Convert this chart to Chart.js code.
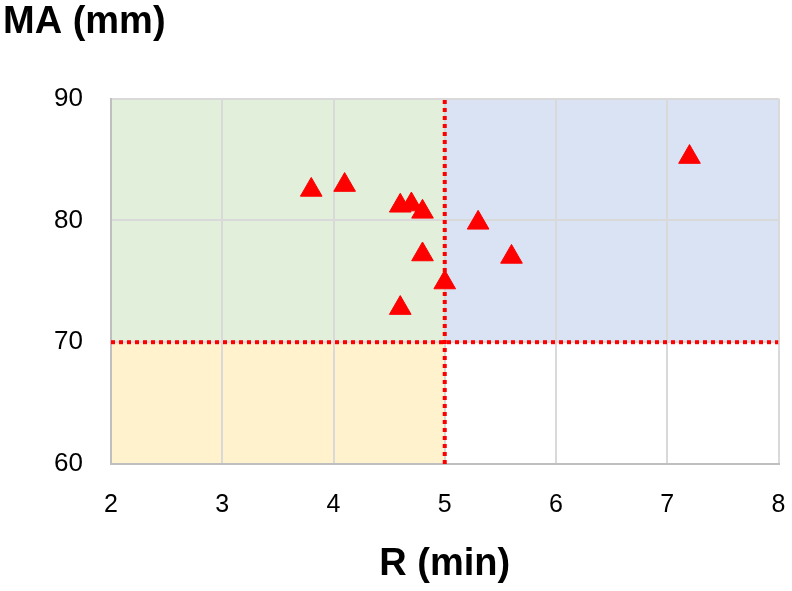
<!DOCTYPE html>
<html>
<head>
<meta charset="utf-8">
<script src="https://cdn.jsdelivr.net/npm/chart.js@4.4.1/dist/chart.umd.min.js"></script>
<style>
  html, body { margin: 0; padding: 0; background: #fff; }
  #wrap { width: 792px; height: 591px; }
</style>
</head>
<body>
<div id="wrap"><canvas id="chart"></canvas></div>
<script>
// R (min) vs MA (mm), one triangle per sample
const rValues  = [3.8, 4.1, 4.6, 4.7, 4.8, 5.3, 4.8, 5.6, 5.0, 4.6, 7.2];
const maValues = [82.5, 82.9, 81.2, 81.3, 80.7, 79.8, 77.2, 77.0, 74.9, 72.8, 85.2];

const xRange = [2, 8];
const yRange = [60, 90];
const rThreshold = 5;
const maThreshold = 70;

// shaded zones: [xFrom, xTo, yFrom, yTo]
const zoneGreen  = [2, 5, 70, 90];
const zoneBlue   = [5, 8, 70, 90];
const zoneYellow = [2, 5, 60, 70];

const points = rValues.map((r, i) => ({ x: r, y: maValues[i] }));

const FONT = 'Liberation Sans, Arial, sans-serif';

// fills the zones behind the grid
const zonesPlugin = {
    id: 'zones',
    beforeDraw(chart) {
        const ctx = chart.ctx;
        const xs = chart.scales.x, ys = chart.scales.y;
        const fill = (z, color) => {
            const x1 = xs.getPixelForValue(z[0]), x2 = xs.getPixelForValue(z[1]);
            const y1 = ys.getPixelForValue(z[3]), y2 = ys.getPixelForValue(z[2]);
            ctx.save();
            ctx.fillStyle = color;
            ctx.fillRect(x1, y1, x2 - x1, y2 - y1);
            ctx.restore();
        };
        fill(zoneGreen, '#e2efda');
        fill(zoneBlue, '#dae3f3');
        fill(zoneYellow, '#fff2cc');
    }
};

const dotted = {
    type: 'line',
    borderColor: '#ff0000',
    borderWidth: 4,
    borderDash: [4, 4],
    borderCapStyle: 'butt',
    pointRadius: 0,
    fill: false,
    order: 2
};

new Chart(document.getElementById('chart'), {
    type: 'scatter',
    data: {
        datasets: [
            Object.assign({}, dotted, {
                data: [{ x: rThreshold, y: yRange[0] }, { x: rThreshold, y: yRange[1] }]
            }),
            Object.assign({}, dotted, {
                data: [{ x: xRange[0], y: maThreshold }, { x: xRange[1], y: maThreshold }]
            }),
            {
                data: points,
                pointStyle: 'triangle',
                pointRadius: 12.5,
                pointHoverRadius: 12.5,
                backgroundColor: '#ff0000',
                borderColor: '#ff0000',
                borderWidth: 1,
                order: 1
            }
        ]
    },
    options: {
        responsive: true,
        maintainAspectRatio: false,
        animation: false,
        layout: { padding: { left: 3, right: 9, top: 0, bottom: 0 } },
        plugins: {
            legend: { display: false },
            tooltip: { enabled: false },
            title: {
                display: true,
                text: 'MA (mm)',
                align: 'start',
                color: '#000',
                font: { family: FONT, size: 38, weight: 'bold' },
                padding: { top: 0, bottom: 53 }
            }
        },
        scales: {
            x: {
                type: 'linear',
                min: xRange[0],
                max: xRange[1],
                ticks: {
                    stepSize: 1,
                    color: '#000',
                    padding: 26,
                    font: { family: FONT, size: 25 }
                },
                grid: { color: '#d9d9d9', lineWidth: 2, drawTicks: false },
                border: { color: '#bfbfbf', width: 2 },
                title: {
                    display: true,
                    text: 'R (min)',
                    color: '#000',
                    font: { family: FONT, size: 38, weight: 'bold' },
                    padding: { top: 0, bottom: 4 }
                },
                afterFit(scale) {
                    scale.height = 127;
                    scale.paddingLeft = 0;
                    scale.paddingRight = 0;
                }
            },
            y: {
                type: 'linear',
                min: yRange[0],
                max: yRange[1],
                ticks: {
                    stepSize: 10,
                    color: '#000',
                    padding: 28,
                    font: { family: FONT, size: 26 }
                },
                grid: { color: '#d9d9d9', lineWidth: 2, drawTicks: false },
                border: { color: '#bfbfbf', width: 2 },
                afterFit(scale) { scale.width = 108; }
            }
        }
    },
    plugins: [zonesPlugin]
});
</script>
</body>
</html>
